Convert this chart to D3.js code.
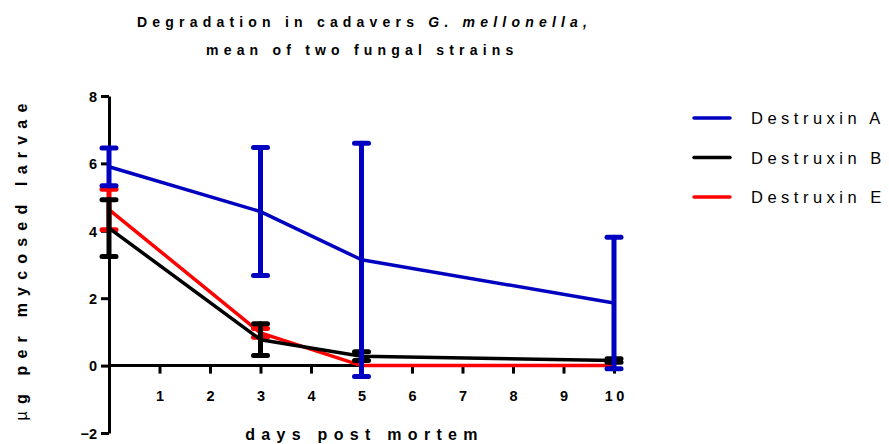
<!DOCTYPE html>
<html>
<head>
<meta charset="utf-8">
<script src="https://cdn.jsdelivr.net/npm/d3@7"></script>
<style>
  html, body { margin: 0; padding: 0; background: #fff; }
  svg { display: block; font-family: "Liberation Sans", Arial, sans-serif; }
</style>
</head>
<body>
<svg id="chart" width="889" height="444"></svg>
<script>
// Days after death at which cadavers were sampled
const days = [0, 3, 5, 10];

// Mean amount (µg per mycosed larva) and error for each destruxin
const destruxinA = [5.90, 4.57, 3.14, 1.86];
const errorA     = [0.56, 1.90, 3.46, 1.95];
const destruxinB = [4.08, 0.77, 0.28, 0.15];
const errorB     = [0.84, 0.47, 0.13, 0.05];
const destruxinE = [4.63, 0.97, 0.00, 0.00];
const errorE     = [0.60, 0.13, 0.00, 0.00];

const xTicks = [1, 2, 3, 4, 5, 6, 7, 8, 9, 10];
const yTicks = [-2, 0, 2, 4, 6, 8];

const seriesNames  = ["Destruxin A", "Destruxin B", "Destruxin E"];
const seriesColors = ["#0000c0", "#000000", "#ff0000"];

const series = [
  { name: seriesNames[0], color: seriesColors[0], values: destruxinA, errors: errorA },
  { name: seriesNames[1], color: seriesColors[1], values: destruxinB, errors: errorB },
  { name: seriesNames[2], color: seriesColors[2], values: destruxinE, errors: errorE }
];

const svg = d3.select("#chart");

const x = d3.scaleLinear().domain([0, 10]).range([109, 614]);
const y = d3.scaleLinear().domain([-2, 8]).range([433, 96]);

// Title
const title = svg.append("text")
  .attr("font-size", 14).attr("font-weight", "bold")
  .attr("letter-spacing", "5.2px").attr("fill", "#000");
title.append("tspan").attr("x", 137).attr("y", 27).text("Degradation in cadavers ");
title.append("tspan").attr("font-style", "italic").text("G. mellonella,");
svg.append("text")
  .attr("x", 206).attr("y", 55)
  .attr("font-size", 14).attr("font-weight", "bold")
  .attr("letter-spacing", "5.2px").attr("fill", "#000")
  .text("mean of two fungal strains");

// Axes
const axisStyle = g => {
  g.selectAll(".domain").attr("stroke", "#000").attr("stroke-width", 3);
  g.selectAll(".tick line").attr("stroke", "#000").attr("stroke-width", 3);
  g.selectAll(".tick text")
    .attr("fill", "#000").attr("font-size", 14.5).attr("font-weight", "bold")
    .attr("font-family", "Liberation Sans, Arial, sans-serif");
};

const yAxis = svg.append("g")
  .attr("transform", `translate(${x(0)},0)`)
  .call(d3.axisLeft(y).tickValues(yTicks).tickSize(8).tickSizeOuter(0).tickPadding(4))
  .call(axisStyle);
yAxis.selectAll(".tick text").attr("dy", "0.36em");

const xAxis = svg.append("g")
  .attr("transform", `translate(0,${y(0)})`)
  .call(d3.axisBottom(x).tickValues(xTicks).tickSize(8).tickSizeOuter(0).tickPadding(17))
  .call(axisStyle);
xAxis.select(".domain").attr("d", `M${x(0)},0H${x(10)}`);
xAxis.selectAll(".tick text").attr("letter-spacing", "3.5px").attr("dx", "1.75px");

// Axis titles
svg.append("text")
  .attr("x", x(5)).attr("y", 440)
  .attr("dx", "3px")
  .attr("text-anchor", "middle")
  .attr("font-size", 16).attr("font-weight", "bold")
  .attr("letter-spacing", "6.3px").attr("fill", "#000")
  .text("days post mortem");

const yTitle = svg.append("text")
  .attr("transform", `translate(27,${(y(8) + y(-2)) / 2 - 6}) rotate(-90)`)
  .attr("text-anchor", "middle")
  .attr("font-size", 16).attr("font-weight", "bold")
  .attr("letter-spacing", "7.2px").attr("fill", "#000");
yTitle.append("tspan").attr("font-weight", "normal").text("µ");
yTitle.append("tspan").text("g per mycosed larvae");

// Data: lines then error bars, drawn from the last series to the first
const line = d3.line().x(d => x(d.day)).y(d => y(d.value));
const capHalf = 7;

series.slice().reverse().forEach(s => {
  const pts = days.map((d, i) => ({ day: d, value: s.values[i], err: s.errors[i] }));
  const g = svg.append("g");

  g.append("path")
    .datum(pts)
    .attr("d", line)
    .attr("fill", "none")
    .attr("stroke", s.color)
    .attr("stroke-width", 3.5)
    .attr("stroke-linejoin", "round");

  const bars = g.selectAll(".err")
    .data(pts.filter(p => p.err > 0))
    .join("g")
    .attr("stroke", s.color)
    .attr("stroke-width", 5)
    .attr("stroke-linecap", "round");

  bars.append("line")
    .attr("x1", p => x(p.day)).attr("x2", p => x(p.day))
    .attr("y1", p => y(p.value + p.err)).attr("y2", p => y(p.value - p.err));
  bars.append("line")
    .attr("x1", p => x(p.day) - capHalf).attr("x2", p => x(p.day) + capHalf)
    .attr("y1", p => y(p.value + p.err)).attr("y2", p => y(p.value + p.err));
  bars.append("line")
    .attr("x1", p => x(p.day) - capHalf).attr("x2", p => x(p.day) + capHalf)
    .attr("y1", p => y(p.value - p.err)).attr("y2", p => y(p.value - p.err));
});

// Legend
const legend = svg.append("g");
series.forEach((s, i) => {
  const ly = 118 + i * 39.5;
  legend.append("line")
    .attr("x1", 694).attr("x2", 730)
    .attr("y1", ly).attr("y2", ly)
    .attr("stroke", s.color).attr("stroke-width", 3.5)
    .attr("stroke-linecap", "round");
  legend.append("text")
    .attr("x", 751).attr("y", ly + 6)
    .attr("font-size", 16.5).attr("letter-spacing", "4.5px")
    .attr("fill", "#000")
    .text(s.name);
});
</script>
</body>
</html>
